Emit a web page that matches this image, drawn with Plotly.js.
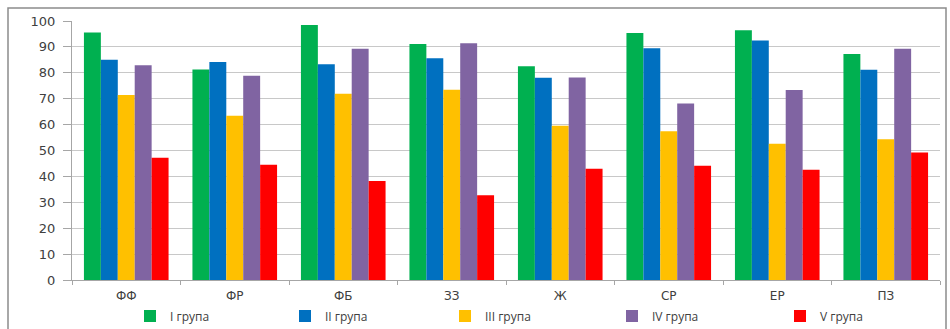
<!DOCTYPE html>
<html>
<head>
<meta charset="utf-8">
<script src="https://cdn.plot.ly/plotly-3.0.1.min.js"></script>
<style>html,body{margin:0;padding:0;background:#fff;}#chart{width:950px;height:329px;}</style>
</head>
<body>
<div id="chart"></div>
<script>
const categories = ["ФФ", "ФР", "ФБ", "ЗЗ", "Ж", "СР", "ЕР", "ПЗ"];
const seriesNames = ["І група", "ІІ група", "ІІІ група", "IV група", "V група"];
const group1 = [95.6, 81.3, 98.5, 91.1, 82.5, 95.4, 96.4, 87.3];
const group2 = [85.0, 84.2, 83.3, 85.6, 78.1, 89.5, 92.5, 81.2];
const group3 = [71.4, 63.4, 71.9, 73.5, 59.6, 57.4, 52.6, 54.3];
const group4 = [82.9, 78.9, 89.3, 91.4, 78.2, 68.1, 73.4, 89.3];
const group5 = [47.2, 44.5, 38.2, 32.7, 43.0, 44.1, 42.6, 49.2];
const yTicks = [0, 10, 20, 30, 40, 50, 60, 70, 80, 90, 100];

const colors = ["#00B050", "#0070C0", "#FFC000", "#8064A2", "#FF0000"];
const allValues = [group1, group2, group3, group4, group5];
const legendIds = ["legend", "legend2", "legend3", "legend4", "legend5"];
const legendXpx = [130, 285, 445, 612, 780];

const traces = allValues.map((vals, i) => ({
  type: "bar",
  name: seriesNames[i],
  x: categories,
  y: vals,
  legend: legendIds[i],
  marker: {color: colors[i], line: {width: 0}},
  hoverinfo: "skip"
}));

const layout = {
  width: 950,
  height: 329,
  margin: {l: 72, r: 10, t: 21, b: 49},
  paper_bgcolor: "#ffffff",
  plot_bgcolor: "#ffffff",
  barmode: "group",
  bargap: 0.22,
  bargroupgap: 0,
  showlegend: true,
  xaxis: {
    type: "category",
    showgrid: false,
    showline: true,
    linecolor: "#a6a6a6",
    linewidth: 1,
    ticks: "outside",
    ticklen: 4,
    tickcolor: "#a6a6a6",
    tickson: "boundaries",
    ticklabelstandoff: 5,
    tickfont: {family: "DejaVu Sans, Verdana, sans-serif", size: 12, color: "#404040"},
    fixedrange: true
  },
  yaxis: {
    range: [0, 100],
    tickvals: yTicks,
    ticktext: yTicks.map(String),
    showgrid: true,
    gridcolor: "#c8c8c8",
    gridwidth: 1,
    showline: true,
    linecolor: "#a6a6a6",
    linewidth: 1,
    ticks: "outside",
    ticklen: 8,
    tickcolor: "#a6a6a6",
    ticklabelstandoff: 5,
    zeroline: false,
    tickfont: {family: "DejaVu Sans, Verdana, sans-serif", size: 13, color: "#404040"},
    fixedrange: true
  },
  shapes: [{
    type: "rect",
    xref: "paper", yref: "paper",
    x0: -64 / 868, x1: (946 - 72) / 868,
    y0: -60 / 259, y1: 1 + 13 / 259,
    line: {color: "#8c8c8c", width: 1.5},
    fillcolor: "rgba(0,0,0,0)",
    layer: "below"
  }]
};

legendIds.forEach((id, i) => {
  layout[id] = {
    orientation: "h",
    xref: "container",
    yref: "container",
    x: legendXpx[i] / 950,
    xanchor: "left",
    y: 1 - 316 / 329,
    yanchor: "middle",
    itemwidth: 30,
    font: {family: "Open Sans, Liberation Sans, sans-serif", size: 12, color: "#404040"},
    itemclick: false,
    bgcolor: "rgba(0,0,0,0)"
  };
});

Plotly.newPlot("chart", traces, layout, {displayModeBar: false, staticPlot: true});
</script>
</body>
</html>
